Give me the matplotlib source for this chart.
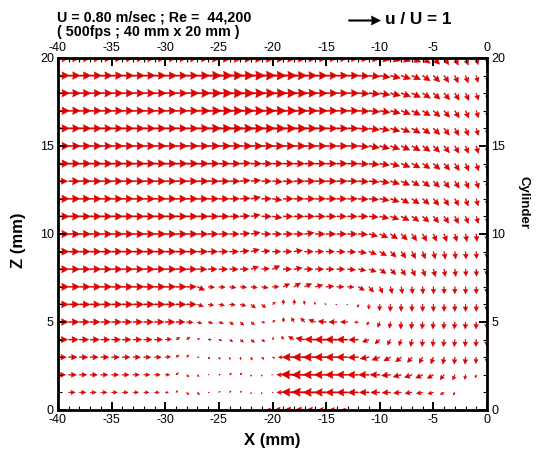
import numpy as np
import matplotlib
matplotlib.use("Agg")
import matplotlib.pyplot as plt
from matplotlib.ticker import MultipleLocator

plt.rcParams['font.family'] = ['Liberation Sans', 'DejaVu Sans']
plt.rcParams['axes.unicode_minus'] = False

# PIV measurement grid (mm): columns x = -40 ... 0, rows z = 0 ... 20
x_grid = list(range(-40, 1))
z_grid = list(range(0, 21))

# Velocity magnitude |u|/U, one list per row (z = 0 ... 20), columns x = -40 ... 0
speed = [
    # z = 0
    [0, 0, 0, 0, 0, 0, 0, 0.06, 0.06, 0.06,
     0.05, 0.05, 0.05, 0, 0, 0, 0, 0, 0, 0,
     0.2, 0.28, 0.3, 0.3, 0.28, 0.26, 0.24, 0.2, 0, 0,
     0, 0, 0, 0, 0, 0, 0, 0, 0, 0, 0],
    # z = 1
    [0.0, 0.2, 0.2, 0.19, 0.19, 0.18, 0.18, 0.17, 0.16, 0.15,
     0.1, 0.08, 0.1, 0.1, 0.04, 0.06, 0.07, 0.06, 0.05, 0.05,
     0.03, 0.2, 0.38, 0.4, 0.38, 0.36, 0.35, 0.34, 0.32, 0.3,
     0.28, 0.26, 0.24, 0.22, 0.2, 0.18, 0.14, 0.1, 0, 0, 0],
    # z = 2
    [0.24, 0.24, 0.23, 0.23, 0.22, 0.22, 0.21, 0.2, 0.19, 0.18,
     0.14, 0.1, 0.1, 0.08, 0.03, 0.05, 0.08, 0.08, 0.05, 0.05,
     0.03, 0.2, 0.4, 0.4, 0.38, 0.37, 0.36, 0.35, 0.34, 0.32,
     0.3, 0.28, 0.26, 0.25, 0.24, 0.22, 0.2, 0.18, 0.15, 0.1, 0],
    # z = 3
    [0.26, 0.26, 0.26, 0.25, 0.25, 0.24, 0.24, 0.23, 0.22, 0.21,
     0.17, 0.12, 0.1, 0.05, 0.08, 0.08, 0.08, 0.08, 0.1, 0.1,
     0.08, 0.15, 0.36, 0.38, 0.38, 0.37, 0.36, 0.35, 0.32, 0.28,
     0.26, 0.24, 0.23, 0.22, 0.22, 0.22, 0.22, 0.22, 0.22, 0.2, 0.18],
    # z = 4
    [0.3, 0.3, 0.29, 0.29, 0.28, 0.28, 0.27, 0.27, 0.26, 0.25,
     0.2, 0.14, 0.13, 0.08, 0.1, 0.1, 0.12, 0.13, 0.14, 0.12,
     0.08, 0.12, 0.2, 0.28, 0.33, 0.36, 0.36, 0.34, 0.3, 0.22,
     0.2, 0.2, 0.2, 0.22, 0.22, 0.22, 0.22, 0.22, 0.22, 0.22, 0.22],
    # z = 5
    [0.32, 0.32, 0.32, 0.31, 0.31, 0.31, 0.3, 0.3, 0.3, 0.3,
     0.3, 0.28, 0.2, 0.15, 0.15, 0.15, 0.15, 0.15, 0.14, 0.1,
     0.1, 0.14, 0.16, 0.18, 0.22, 0.25, 0.25, 0.22, 0.12, 0.12,
     0.18, 0.2, 0.22, 0.22, 0.22, 0.22, 0.22, 0.22, 0.22, 0.22, 0.22],
    # z = 6
    [0.33, 0.33, 0.33, 0.33, 0.33, 0.33, 0.33, 0.33, 0.33, 0.33,
     0.32, 0.31, 0.3, 0.2, 0.18, 0.18, 0.18, 0.18, 0.18, 0.16,
     0.12, 0.15, 0.15, 0.12, 0.08, 0.05, 0.04, 0.03, 0.1, 0.15,
     0.2, 0.22, 0.22, 0.22, 0.22, 0.22, 0.22, 0.22, 0.22, 0.22, 0.22],
    # z = 7
    [0.34, 0.34, 0.34, 0.34, 0.34, 0.34, 0.34, 0.34, 0.34, 0.34,
     0.33, 0.33, 0.3, 0.25, 0.2, 0.2, 0.2, 0.2, 0.2, 0.2,
     0.2, 0.22, 0.24, 0.24, 0.24, 0.24, 0.22, 0.2, 0.22, 0.22,
     0.22, 0.22, 0.22, 0.22, 0.22, 0.22, 0.22, 0.22, 0.22, 0.22, 0.22],
    # z = 8
    [0.34, 0.34, 0.34, 0.34, 0.34, 0.34, 0.34, 0.34, 0.34, 0.34,
     0.34, 0.34, 0.32, 0.3, 0.28, 0.28, 0.27, 0.26, 0.25, 0.24,
     0.25, 0.26, 0.26, 0.26, 0.26, 0.25, 0.25, 0.25, 0.24, 0.24,
     0.24, 0.24, 0.24, 0.24, 0.24, 0.24, 0.23, 0.23, 0.22, 0.22, 0.22],
    # z = 9
    [0.34, 0.34, 0.34, 0.34, 0.34, 0.34, 0.34, 0.34, 0.34, 0.34,
     0.34, 0.34, 0.33, 0.32, 0.3, 0.29, 0.28, 0.28, 0.27, 0.26,
     0.26, 0.27, 0.27, 0.27, 0.26, 0.26, 0.26, 0.26, 0.26, 0.25,
     0.25, 0.25, 0.25, 0.25, 0.24, 0.24, 0.24, 0.23, 0.23, 0.22, 0.22],
    # z = 10
    [0.35, 0.35, 0.35, 0.35, 0.35, 0.35, 0.35, 0.35, 0.35, 0.35,
     0.35, 0.35, 0.34, 0.33, 0.32, 0.31, 0.3, 0.3, 0.29, 0.29,
     0.29, 0.3, 0.3, 0.3, 0.3, 0.3, 0.3, 0.3, 0.29, 0.28,
     0.28, 0.27, 0.27, 0.26, 0.26, 0.25, 0.25, 0.24, 0.24, 0.23, 0.22],
    # z = 11
    [0.35, 0.35, 0.35, 0.35, 0.35, 0.35, 0.35, 0.35, 0.35, 0.35,
     0.35, 0.35, 0.34, 0.34, 0.33, 0.32, 0.31, 0.3, 0.29, 0.3,
     0.3, 0.3, 0.31, 0.31, 0.31, 0.31, 0.3, 0.3, 0.3, 0.29,
     0.29, 0.28, 0.28, 0.27, 0.27, 0.26, 0.26, 0.25, 0.24, 0.23, 0.22],
    # z = 12
    [0.35, 0.35, 0.35, 0.35, 0.35, 0.35, 0.35, 0.35, 0.35, 0.35,
     0.35, 0.35, 0.35, 0.34, 0.33, 0.32, 0.31, 0.31, 0.3, 0.3,
     0.3, 0.31, 0.31, 0.32, 0.32, 0.32, 0.31, 0.31, 0.31, 0.3,
     0.3, 0.29, 0.28, 0.28, 0.27, 0.27, 0.26, 0.25, 0.24, 0.23, 0.22],
    # z = 13
    [0.3, 0.35, 0.35, 0.35, 0.35, 0.35, 0.35, 0.35, 0.35, 0.35,
     0.35, 0.35, 0.35, 0.35, 0.34, 0.33, 0.32, 0.31, 0.3, 0.3,
     0.31, 0.32, 0.32, 0.33, 0.33, 0.33, 0.32, 0.32, 0.32, 0.31,
     0.31, 0.3, 0.29, 0.28, 0.28, 0.27, 0.27, 0.26, 0.25, 0.24, 0.22],
    # z = 14
    [0.36, 0.36, 0.36, 0.36, 0.36, 0.36, 0.36, 0.36, 0.36, 0.36,
     0.36, 0.36, 0.36, 0.35, 0.35, 0.34, 0.34, 0.33, 0.33, 0.33,
     0.33, 0.33, 0.33, 0.33, 0.33, 0.33, 0.33, 0.33, 0.32, 0.32,
     0.31, 0.3, 0.3, 0.29, 0.28, 0.28, 0.27, 0.26, 0.25, 0.24, 0.22],
    # z = 15
    [0.36, 0.36, 0.36, 0.36, 0.36, 0.36, 0.36, 0.36, 0.36, 0.36,
     0.36, 0.36, 0.36, 0.36, 0.37, 0.37, 0.37, 0.37, 0.37, 0.37,
     0.37, 0.37, 0.37, 0.36, 0.35, 0.34, 0.34, 0.34, 0.33, 0.33,
     0.32, 0.31, 0.3, 0.3, 0.29, 0.28, 0.27, 0.26, 0.25, 0.24, 0.22],
    # z = 16
    [0.36, 0.36, 0.36, 0.36, 0.36, 0.36, 0.36, 0.36, 0.36, 0.36,
     0.36, 0.36, 0.36, 0.38, 0.4, 0.4, 0.41, 0.41, 0.41, 0.41,
     0.41, 0.4, 0.4, 0.38, 0.36, 0.35, 0.35, 0.34, 0.34, 0.33,
     0.32, 0.31, 0.3, 0.3, 0.29, 0.28, 0.27, 0.26, 0.25, 0.23, 0.21],
    # z = 17
    [0.36, 0.36, 0.36, 0.36, 0.36, 0.36, 0.36, 0.36, 0.36, 0.36,
     0.36, 0.36, 0.37, 0.39, 0.41, 0.42, 0.42, 0.42, 0.42, 0.42,
     0.42, 0.42, 0.41, 0.39, 0.37, 0.36, 0.35, 0.35, 0.34, 0.34,
     0.33, 0.32, 0.31, 0.3, 0.29, 0.28, 0.27, 0.26, 0.25, 0.23, 0.21],
    # z = 18
    [0.36, 0.36, 0.36, 0.36, 0.36, 0.36, 0.36, 0.36, 0.36, 0.36,
     0.36, 0.36, 0.38, 0.4, 0.42, 0.42, 0.43, 0.43, 0.43, 0.43,
     0.43, 0.42, 0.41, 0.39, 0.37, 0.36, 0.35, 0.35, 0.34, 0.34,
     0.33, 0.32, 0.31, 0.3, 0.29, 0.28, 0.27, 0.26, 0.25, 0.23, 0.21],
    # z = 19
    [0.36, 0.36, 0.36, 0.36, 0.36, 0.36, 0.36, 0.36, 0.36, 0.36,
     0.36, 0.36, 0.36, 0.38, 0.41, 0.42, 0.42, 0.43, 0.43, 0.43,
     0.42, 0.42, 0.4, 0.38, 0.37, 0.36, 0.35, 0.35, 0.34, 0.34,
     0.33, 0.32, 0.31, 0.3, 0.29, 0.28, 0.26, 0.25, 0.24, 0.22, 0.2],
    # z = 20
    [0.36, 0.36, 0.36, 0.36, 0.36, 0.36, 0.36, 0.36, 0.36, 0.36,
     0.36, 0.36, 0.36, 0.37, 0.4, 0.41, 0.42, 0.42, 0.42, 0.42,
     0.42, 0.41, 0.4, 0.38, 0.37, 0.36, 0.35, 0.35, 0.34, 0.34,
     0.33, 0.32, 0.31, 0.3, 0.29, 0.28, 0.26, 0.25, 0.24, 0.22, 0.2],
]

# Flow direction in degrees (0 = +x, 90 = +z), same layout as speed
angle = [
    # z = 0
    [0, 0, 0, 0, 0, 0, 0, 0, 0, 0,
     0, 0, 0, 0, 0, 0, 0, 0, 0, 0,
     180, 180, 180, 180, 180, 180, 180, 180, 0, 0,
     0, 0, 0, 0, 0, 0, 0, 0, 0, 0, 0],
    # z = 1
    [0, 0, 0, 0, 0, 0, 0, 0, 0, 0,
     0, 45, -50, -50, 0, 45, 45, 50, -90, -90,
     0, 180, 178, 178, 180, 180, 180, 180, 180, 180,
     180, 182, 185, 188, 190, 195, 210, 240, 0, 0, 0],
    # z = 2
    [0, 0, 0, 0, 0, 0, 0, 0, 0, 0,
     0, 40, -45, -50, 0, 0, 40, 50, -90, -90,
     180, 180, 178, 180, 180, 180, 180, 180, 180, 180,
     180, 185, 195, 200, 205, 210, 230, 250, 260, 250, 0],
    # z = 3
    [0, 0, 0, 0, 0, 0, 0, 0, 0, 0,
     5, 35, 50, 0, -45, -60, -80, -80, -70, -45,
     -20, 180, 180, 180, 180, 180, 180, 180, 182, 190,
     200, 210, 220, 230, 240, 250, 260, 265, 265, 265, 268],
    # z = 4
    [0, 0, 0, 0, 0, 0, 0, 0, 0, 0,
     5, 30, 40, 30, 0, -20, -35, -40, -40, -35,
     60, 110, 150, 170, 178, 180, 180, 180, 182, 200,
     220, 240, 250, 260, 265, 265, 265, 266, 266, 267, 268],
    # z = 5
    [0, 0, 0, 0, 0, 0, 0, 0, 0, 0,
     0, 0, -5, -20, -15, -20, -35, -45, -40, -10,
     30, 85, 120, 135, 160, 175, 180, 180, 185, 230,
     250, 260, 265, 265, 265, 265, 266, 266, 267, 267, 268],
    # z = 6
    [0, 0, 0, 0, 0, 0, 0, 0, 0, 0,
     0, 0, 0, -20, -10, -10, -5, -15, -40, -40,
     40, 88, 82, 100, 120, 150, 180, 200, -100, -95,
     -92, -92, -91, -91, -90, -90, -90, -90, -90, -90, -90],
    # z = 7
    [0, 0, 0, 0, 0, 0, 0, 0, 0, 0,
     0, 0, 0, -25, -5, -5, -8, -5, -8, -10,
     0, 25, 30, 25, 15, 5, 0, -3, -30, -50,
     -65, -75, -80, -85, -87, -88, -89, -90, -90, -90, -90],
    # z = 8
    [0, 0, 0, 0, 0, 0, 0, 0, 0, 0,
     0, 0, 0, 0, 0, 0, 0, 0, 20, 5,
     25, 0, 10, 0, 0, 0, 0, -5, -10, -20,
     -35, -45, -55, -65, -70, -75, -80, -82, -85, -88, -90],
    # z = 9
    [0, 0, 0, 0, 0, 0, 0, 0, 0, 0,
     0, 0, 0, 0, 0, 0, 0, 5, 15, 5,
     0, 0, 8, 0, 0, 0, -2, -3, -10, -20,
     -32, -45, -55, -62, -70, -75, -80, -83, -86, -88, -90],
    # z = 10
    [0, 0, 0, 0, 0, 0, 0, 0, 0, 0,
     0, 0, 0, 0, 0, 0, 0, 4, 10, 0,
     0, 0, 0, 8, 0, 0, 0, 0, -3, -15,
     -25, -35, -45, -55, -60, -65, -70, -75, -80, -85, -88],
    # z = 11
    [0, 0, 0, 0, 0, 0, 0, 0, 0, 0,
     0, 0, 0, 0, 0, 0, 0, 3, 10, 0,
     -8, 0, 0, 0, 0, 0, 0, 0, 0, -5,
     -12, -20, -28, -35, -42, -50, -55, -62, -68, -74, -80],
    # z = 12
    [0, 0, 0, 0, 0, 0, 0, 0, 0, 0,
     0, 0, 0, 0, 0, 0, 0, 3, 10, 0,
     -8, 0, 0, 0, 0, 0, 0, 0, -3, -5,
     -10, -20, -30, -35, -40, -50, -55, -60, -70, -75, -80],
    # z = 13
    [0, 0, 0, 0, 0, 0, 0, 0, 0, 0,
     0, 0, 0, 0, 0, 0, 0, 5, 6, 0,
     -4, -3, 0, 0, 0, 0, 0, 0, -3, -5,
     -10, -18, -25, -32, -38, -45, -52, -58, -66, -72, -78],
    # z = 14
    [0, 0, 0, 0, 0, 0, 0, 0, 0, 0,
     0, 0, 0, 0, 0, 0, 0, 3, 0, 0,
     0, 0, 0, 0, 0, 0, 0, 0, -3, -6,
     -10, -16, -22, -28, -34, -42, -50, -58, -66, -72, -78],
    # z = 15
    [0, 0, 0, 0, 0, 0, 0, 0, 0, 0,
     0, 0, 0, 0, 0, 0, 0, 0, 0, 0,
     0, 0, 0, 0, 0, 0, 0, 0, -5, -10,
     -15, -20, -25, -30, -36, -45, -52, -60, -68, -74, -80],
    # z = 16
    [0, 0, 0, 0, 0, 0, 0, 0, 0, 0,
     0, 0, 0, 0, 0, 0, 0, 0, 0, 0,
     0, 0, 0, 0, 0, 0, 0, 0, -4, -8,
     -12, -18, -24, -30, -36, -44, -52, -60, -68, -74, -80],
    # z = 17
    [0, 0, 0, 0, 0, 0, 0, 0, 0, 0,
     0, 0, 0, 0, 0, 0, 0, 0, 0, 0,
     0, 0, 0, 0, 0, 0, 0, 0, -3, -6,
     -10, -15, -21, -27, -34, -42, -50, -58, -66, -72, -78],
    # z = 18
    [0, 0, 0, 0, 0, 0, 0, 0, 0, 0,
     0, 0, 0, 0, 0, 0, 0, 0, 0, 0,
     0, 0, 0, 0, 0, 0, 0, 0, -3, -5,
     -10, -14, -20, -26, -33, -42, -50, -58, -65, -72, -78],
    # z = 19
    [0, 0, 0, 0, 0, 0, 0, 0, 0, 0,
     0, 0, 0, 0, 0, 0, 0, 0, 0, 0,
     0, 0, 0, 0, 0, 0, 0, 0, -3, -5,
     -10, -15, -20, -25, -35, -45, -55, -65, -70, -75, -78],
    # z = 20
    [0, 0, 0, 0, 0, 0, 0, 0, 0, 0,
     0, 0, 0, 0, 0, 0, 0, 0, 0, 0,
     0, 0, 0, 0, 0, 0, 0, 0, -3, -5,
     -10, -15, -20, -25, -35, -45, -55, -65, -70, -75, -78],
]

header_1 = "U = 0.80 m/sec ; Re =  44,200"
header_2 = "( 500fps ; 40 mm x 20 mm )"
key_label = "u / U = 1"

S = np.array(speed, dtype=float)
A = np.deg2rad(np.array(angle, dtype=float))
U = S * np.cos(A)
V = S * np.sin(A)
X, Z = np.meshgrid(x_grid, z_grid)

W, H = 539, 454
fig = plt.figure(figsize=(W / 100, H / 100), dpi=100)
ax = fig.add_axes([58 / W, 1 - 410 / H, 429 / W, 352 / H])

# Arrows shorter than the template length are drawn as scaled copies,
# so the head stays proportional to the vector length.
red = '#dd0000'
shaft = 1.5            # px
template = 14.0        # px, full-size arrow length
head_len = 0.66 * template / shaft
head_wid = 0.66 * template / shaft
Q = ax.quiver(X, Z, U, V, color=red, angles='uv', pivot='tail',
              units='dots', width=shaft, scale_units='dots', scale=1 / 32,
              headlength=head_len, headaxislength=head_len * 0.92,
              headwidth=head_wid, minshaft=template / (shaft * head_len),
              minlength=0, linewidth=0.3, edgecolor=red)

ax.set_xlim(-40, 0)
ax.set_ylim(0, 20)
for axis in (ax.xaxis, ax.yaxis):
    axis.set_major_locator(MultipleLocator(5))
    axis.set_minor_locator(MultipleLocator(1))
ax.tick_params(which='both', direction='in', top=True, right=True,
               labeltop=True, labelright=True, labelsize=9, pad=3,
               colors='black')
ax.tick_params(which='major', length=6, width=1.4)
ax.tick_params(which='minor', length=3, width=0.8)
for sp in ax.spines.values():
    sp.set_linewidth(2)

ax.set_xlabel('X (mm)', fontsize=12, fontweight='bold')
ax.xaxis.set_label_coords(0.5, (410 - 440) / 352)
ax.xaxis.label.set_va('center')
ax.set_ylabel('Z (mm)', fontsize=12, fontweight='bold')
ax.yaxis.set_label_position('left')
ax.yaxis.set_label_coords((19 - 58) / 429, (410 - 240) / 352)
ax.yaxis.label.set_va('center')

fig.text(524 / W, 1 - 203 / H, 'Cylinder', rotation=-90, fontsize=9.5,
         fontweight='bold', ha='center', va='center')

fig.text(57 / W, 1 - 17 / H, header_1, fontsize=10.3, fontweight='bold',
         ha='left', va='center')
fig.text(57 / W, 1 - 32 / H, header_2, fontsize=10.3, fontweight='bold',
         ha='left', va='center')

ax.quiverkey(Q, 380 / W, 1 - 20 / H, 1.0, key_label, labelpos='E',
             coordinates='figure', labelsep=0.05, color='black',
             fontproperties={'weight': 'bold', 'size': 12.4})

fig.savefig('out.png', dpi=100)
